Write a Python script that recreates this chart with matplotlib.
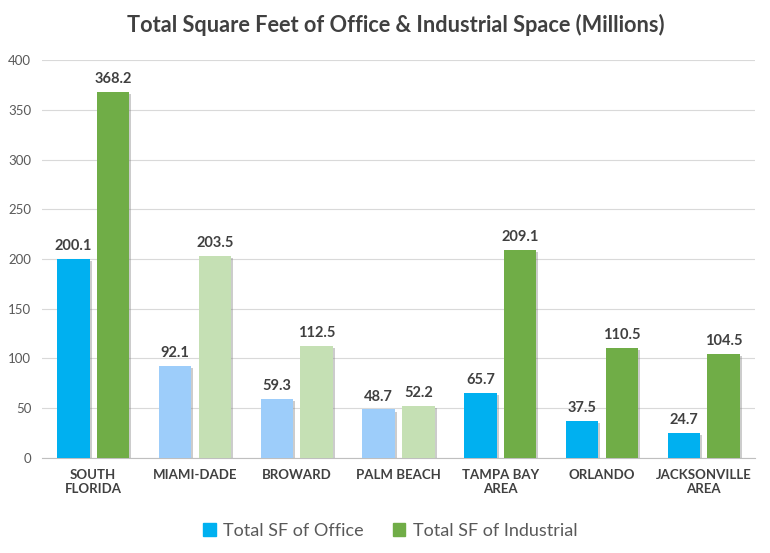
import matplotlib
matplotlib.use('Agg')
import matplotlib.pyplot as plt
import matplotlib.patheffects as pe
from matplotlib.patches import Patch
import numpy as np

# Values in millions of square feet
regions = ['SOUTH\nFLORIDA', 'MIAMI-DADE', 'BROWARD', 'PALM BEACH',
           'TAMPA BAY\nAREA', 'ORLANDO', 'JACKSONVILLE\nAREA']
office = [200.1, 92.1, 59.3, 48.7, 65.7, 37.5, 24.7]
industrial = [368.2, 203.5, 112.5, 52.2, 209.1, 110.5, 104.5]
# sub-counties of South Florida are drawn lighter
light = [False, True, True, True, False, False, False]

plt.rcParams['font.family'] = ['Lato', 'DejaVu Sans']

fig = plt.figure(figsize=(7.7, 5.53), dpi=100)
ax = fig.add_axes([0.055, 0.172, 0.925, 0.719])

x = np.arange(len(regions))
w = 0.32
off = 0.195
shadow = [pe.SimplePatchShadow(offset=(1.5, -1.5), shadow_rgbFace='#808080', alpha=0.4),
          pe.Normal()]

office_cols = ['#9DCDFA' if l else '#00B0F0' for l in light]
ind_cols = ['#C5E0B4' if l else '#70AD47' for l in light]

b1 = ax.bar(x - off, office, w, color=office_cols, zorder=3)
b2 = ax.bar(x + off, industrial, w, color=ind_cols, zorder=3)
for b in list(b1) + list(b2):
    b.set_path_effects(shadow)

for bars, vals in ((b1, office), (b2, industrial)):
    for b, v in zip(bars, vals):
        ax.text(b.get_x() + b.get_width() / 2, v + 6, f'{v:.1f}', ha='center', va='bottom',
                fontsize=10.5, fontweight='bold', color='#404040')

ax.set_xlim(-0.5, len(regions) - 0.5)
ax.set_ylim(0, 400)
ax.set_yticks(range(0, 401, 50))
ax.set_xticks(x)
ax.set_xticklabels(regions, fontsize=9.5, fontweight='bold', color='#404040')
ax.tick_params(axis='y', labelsize=9.5, labelcolor='#595959', length=0, pad=8)
ax.tick_params(axis='x', length=0, pad=8)
ax.grid(axis='y', color='#D9D9D9', linewidth=0.8, zorder=0)
for s in ['top', 'right', 'left']:
    ax.spines[s].set_visible(False)
ax.spines['bottom'].set_color('#BFBFBF')

fig.suptitle('Total Square Feet of Office & Industrial Space (Millions)', x=0.514, y=0.975,
             fontsize=15.7, fontweight='bold', color='#404040')

handles = [Patch(color='#00B0F0'), Patch(color='#70AD47')]
fig.legend(handles, ['Total SF of Office', 'Total SF of Industrial'],
           loc='center', bbox_to_anchor=(0.507, 0.04), ncol=2, frameon=False,
           fontsize=13, handlelength=0.7, handleheight=0.7, columnspacing=1.6,
           handletextpad=0.4, labelcolor='#595959')

fig.savefig('out.png', dpi=100)
